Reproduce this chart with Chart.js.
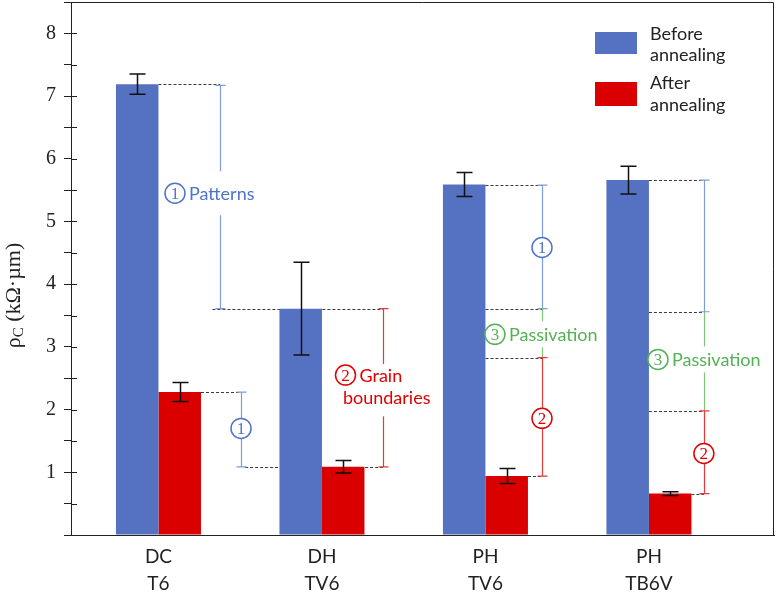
<!DOCTYPE html>
<html><head><meta charset="utf-8">
<script src="https://cdn.jsdelivr.net/npm/chart.js@4"></script>
<style>html,body{margin:0;padding:0;background:#fff}</style>
</head><body>
<canvas id="c" width="777" height="594"></canvas>
<script>
// ---- data ----
const catTop = ['DC', 'DH', 'PH', 'PH'];
const catBottom = ['T6', 'TV6', 'TV6', 'TB6V'];
const beforeVals = [7.19, 3.61, 5.59, 5.66];
const beforeErr  = [0.16, 0.74, 0.19, 0.22];
const afterVals  = [2.28, 1.09, 0.94, 0.66];
const afterErr   = [0.15, 0.10, 0.12, 0.03];
const seriesNames = [['Before', 'annealing'], ['After', 'annealing']];
const yMin = 0, yMax = 8.5;

// annotation geometry (in data units of the x / y scales)
const dashLines = [ // [y, xFrom, xTo]
  [7.19, 1.00, 1.377],
  [3.61, 1.33, 2.373],
  [2.28, 1.26, 1.505],
  [1.085, 1.53, 2.373],
  [5.58, 3.00, 3.346],
  [3.61, 3.00, 3.346],
  [2.83, 3.00, 3.346],
  [0.94, 3.26, 3.346],
  [5.66, 4.00, 4.336],
  [3.56, 4.00, 4.336],
  [1.98, 4.00, 4.336],
  [0.66, 4.26, 4.336]
];
const brackets = [ // [x, yTop, yBottom, colorKey, caps]
  [1.377, 7.17, 3.61, 'b', true],
  [1.505, 2.28, 1.085, 'b', true],
  [2.373, 3.61, 1.085, 'r', true],
  [3.346, 5.58, 3.61, 'b', true],
  [3.346, 3.61, 2.83, 'g', false],
  [3.346, 2.83, 0.94, 'r', true],
  [4.336, 5.66, 3.56, 'b', true],
  [4.336, 3.56, 1.98, 'g', false],
  [4.336, 1.98, 0.66, 'r', true]
];
const circleLabels = [ // [x, y, digit, colorKey, text, padY]
  [1.101, 5.45, '1', 'b', 'Patterns', 11],
  [1.505, 1.70, '1', 'b', '', 0],
  [2.144, 2.55, '2', 'r', 'Grain', 0],
  [3.346, 4.585, '1', 'b', '', 0],
  [3.058, 3.20, '3', 'g', 'Passivation', 2],
  [3.346, 1.86, '2', 'r', '', 0],
  [4.055, 2.80, '3', 'g', 'Passivation', 2],
  [4.336, 1.30, '2', 'r', '', 0]
];
const plainLabels = [ // [x, y, text, colorKey, padY]
  [2.128, 2.196, 'boundaries', 'r', 8]
];

const BLUE = '#5472C1', RED = '#DB0000';
const lineCol = {b: '#7E9BE0', r: '#E53A3A', g: '#7CC77C'};
const textCol = {b: '#4F72CB', r: '#E00000', g: '#55B155'};
const SANS = 'Lato, "Open Sans", sans-serif';
const SERIF = '"Liberation Serif", "DejaVu Serif", serif';

const annot = {
  id: 'annot',
  beforeDatasetsDraw(chart) {
    const {ctx, scales: {x, y}} = chart;
    ctx.save();
    ctx.strokeStyle = '#3a3a3a'; ctx.lineWidth = 1; ctx.setLineDash([3, 2]);
    dashLines.forEach(([v, a, b]) => {
      const py = Math.round(y.getPixelForValue(v)) + 0.5;
      ctx.beginPath(); ctx.moveTo(x.getPixelForValue(a), py); ctx.lineTo(x.getPixelForValue(b), py); ctx.stroke();
    });
    ctx.restore();
  },
  afterDatasetsDraw(chart) {
    const {ctx, chartArea: ca, scales: {x, y}} = chart;
    ctx.save();
    // error bars
    const errs = [beforeErr, afterErr], vals = [beforeVals, afterVals];
    ctx.strokeStyle = '#111'; ctx.lineWidth = 1.5;
    [0, 1].forEach(di => {
      chart.getDatasetMeta(di).data.forEach((bar, j) => {
        const cx = Math.round(bar.x) + 0.5;
        const t = y.getPixelForValue(vals[di][j] + errs[di][j]);
        const b = y.getPixelForValue(vals[di][j] - errs[di][j]);
        ctx.beginPath();
        ctx.moveTo(cx, t); ctx.lineTo(cx, b);
        ctx.moveTo(cx - 8, t); ctx.lineTo(cx + 8, t);
        ctx.moveTo(cx - 8, b); ctx.lineTo(cx + 8, b);
        ctx.stroke();
      });
    });
    // brackets
    ctx.lineWidth = 1.2;
    brackets.forEach(([xv, a, b, c, caps]) => {
      const px = Math.round(x.getPixelForValue(xv)) + 0.5;
      const pa = y.getPixelForValue(a), pb = y.getPixelForValue(b);
      ctx.strokeStyle = lineCol[c];
      ctx.beginPath(); ctx.moveTo(px, pa); ctx.lineTo(px, pb);
      if (caps) { ctx.moveTo(px - 5, pa); ctx.lineTo(px + 5, pa); ctx.moveTo(px - 5, pb); ctx.lineTo(px + 5, pb); }
      ctx.stroke();
    });
    // labels
    const R = 10;
    ctx.font = '18px ' + SANS; ctx.textBaseline = 'middle'; ctx.textAlign = 'left';
    plainLabels.forEach(([xv, yv, txt, c, pad]) => {
      const px = x.getPixelForValue(xv), py = y.getPixelForValue(yv);
      const w = ctx.measureText(txt).width;
      ctx.fillStyle = '#fff'; ctx.fillRect(px - 2, py - 11 - pad, w + 4, 22 + pad * 2);
    });
    circleLabels.forEach(([xv, yv, d, c, txt, pad]) => {
      const px = x.getPixelForValue(xv), py = y.getPixelForValue(yv);
      ctx.font = '18px ' + SANS;
      const w = txt ? ctx.measureText(txt).width + 5 : 0;
      ctx.fillStyle = '#fff';
      if (txt) ctx.fillRect(px + R - 1, py - R - 1 - pad, w + 4, 2 * R + 2 + 2 * pad);
      ctx.beginPath(); ctx.arc(px, py, R, 0, Math.PI * 2); ctx.fill();
      ctx.strokeStyle = textCol[c]; ctx.lineWidth = 1.5; ctx.stroke();
      ctx.fillStyle = textCol[c];
      ctx.font = '17px ' + SERIF; ctx.textAlign = 'center';
      ctx.fillText(d, px, py + 1);
      if (txt) { ctx.font = '18px ' + SANS; ctx.textAlign = 'left'; ctx.fillText(txt, px + R + 4, py + 1); }
    });
    plainLabels.forEach(([xv, yv, txt, c]) => {
      const px = x.getPixelForValue(xv), py = y.getPixelForValue(yv);
      ctx.font = '18px ' + SANS; ctx.textAlign = 'left'; ctx.fillStyle = textCol[c];
      ctx.fillText(txt, px, py + 1);
    });
    ctx.restore();
  },
  afterDraw(chart) {
    const {ctx, chartArea: ca, scales: {y}} = chart;
    ctx.save();
    // frame
    ctx.strokeStyle = '#222'; ctx.lineWidth = 1;
    ctx.beginPath();
    ctx.moveTo(ca.left, ca.top + 0.5); ctx.lineTo(ca.right - 0.5, ca.top + 0.5); ctx.lineTo(ca.right - 0.5, ca.bottom);
    ctx.stroke();
    // inner tick marks
    y.ticks.forEach(t => {
      const py = Math.round(y.getPixelForValue(t.value)) + 0.5;
      ctx.beginPath(); ctx.moveTo(ca.left, py); ctx.lineTo(ca.left + 6, py); ctx.stroke();
    });
    // y title with subscript
    ctx.translate(14, (ca.top + ca.bottom) / 2 + 27);
    ctx.rotate(-Math.PI / 2);
    ctx.fillStyle = '#222'; ctx.textBaseline = 'middle'; ctx.textAlign = 'left';
    const big = '22px ' + SERIF, small = '15px ' + SERIF;
    ctx.font = big; const w1 = ctx.measureText('\u03C1').width, w3 = ctx.measureText(' (k\u03A9\u00B7\u00B5m)').width;
    ctx.font = small; const w2 = ctx.measureText('C').width;
    let sx = -(w1 + w2 + w3) / 2;
    ctx.font = big; ctx.fillText('\u03C1', sx, 0); sx += w1;
    ctx.font = small; ctx.fillText('C', sx, 5); sx += w2;
    ctx.font = big; ctx.fillText(' (k\u03A9\u00B7\u00B5m)', sx, 0);
    ctx.restore();
    // legend
    ctx.save();
    const lx = ca.right - 179;
    const sw = [[BLUE, 32, 54], [RED, 82, 106]];
    ctx.font = '18px ' + SANS; ctx.textBaseline = 'middle'; ctx.textAlign = 'left'; 
    sw.forEach(([col, t, b], i) => {
      ctx.fillStyle = col; ctx.fillRect(lx, t, 42, b - t);
      ctx.fillStyle = '#222';
      ctx.fillText(seriesNames[i][0], lx + 55, t + 1 + (i ? 0 : 1));
      ctx.fillText(seriesNames[i][1], lx + 55, t + 23);
    });
    ctx.restore();
  }
};

const toXY = vals => vals.map((v, i) => ({x: i + 1, y: v}));

new Chart(document.getElementById('c'), {
  type: 'bar',
  data: {
    datasets: [
      {label: seriesNames[0].join(' '), data: toXY(beforeVals), backgroundColor: BLUE, borderWidth: 0},
      {label: seriesNames[1].join(' '), data: toXY(afterVals), backgroundColor: RED, borderWidth: 0}
    ]
  },
  options: {
    responsive: false,
    animation: false,
    categoryPercentage: 0.52,
    barPercentage: 1,
    layout: {padding: {top: 2, right: 3, left: 0, bottom: 0}},
    plugins: {legend: {display: false}, tooltip: {enabled: false}},
    scales: {
      x: {
        type: 'linear', min: 0.465, max: 4.765, offset: false,
        grid: {display: false, drawTicks: false, offset: false},
        border: {display: true, color: '#222', width: 1},
        ticks: {
          stepSize: 1, includeBounds: false, autoSkip: false, maxRotation: 0, padding: 8,
          font: {family: SANS, size: 19, lineHeight: 1.42}, color: '#222',
          callback: v => (Number.isInteger(v) && v >= 1 && v <= 4) ? [catTop[v - 1], catBottom[v - 1]] : ''
        },
        afterFit: s => { s.height = 59; s.paddingLeft = 0; s.paddingRight = 0; }
      },
      y: {
        min: yMin, max: yMax,
        grid: {display: true, drawOnChartArea: false, drawTicks: true, tickLength: 7, color: '#222'},
        border: {display: true, color: '#222', width: 1},
        ticks: {
          stepSize: 0.5, autoSkip: false, padding: 8,
          font: {family: SERIF, size: 20}, color: '#222',
          callback: v => (Number.isInteger(v) && v >= 1) ? String(v) : ''
        },
        afterFit: s => { s.width = 71; s.paddingTop = 0; s.paddingBottom = 0; }
      }
    }
  },
  plugins: [annot]
});
</script>
</body></html>
